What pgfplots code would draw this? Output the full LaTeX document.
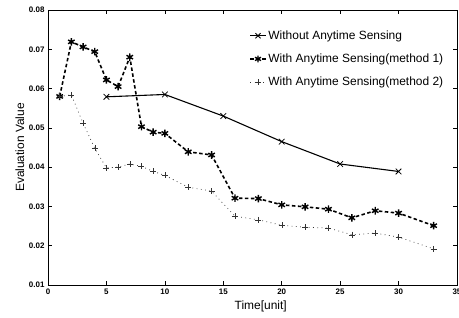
\documentclass[border=0pt]{standalone}
\usepackage{pgfplots}
\pgfplotsset{compat=1.18}
\usepackage{fontspec}
\setmainfont{Liberation Sans}
\begin{document}
\begin{tikzpicture}
\begin{axis}[
  at={(0,0)}, anchor=south west,
  scale only axis,
  width=409bp, height=275bp,
  xmin=0, xmax=35, ymin=0.01, ymax=0.08,
  xtick={0,5,...,35},
  ytick={0.01,0.02,...,0.08},
  tick align=inside,
  major tick length=4bp,
  axis line style={line width=1pt},
  every tick/.style={black, line width=0.6pt},
  /pgf/number format/assume math mode=true,
  yticklabel style={/pgf/number format/.cd, fixed, fixed zerofill, precision=2},
  scaled y ticks=false,
  ticklabel style={font=\fontsize{8}{10}\selectfont\bfseries},
  xlabel={Time[unit]},
  ylabel={Evaluation Value},
  label style={font=\fontsize{12}{14}\selectfont},
  xlabel style={at={(ticklabel cs:0.52)}, anchor=north, yshift=0bp},
  ylabel style={yshift=-2bp},
  legend style={draw=none, fill=none, at={(rel axis cs:0.485,0.94)}, anchor=north west,
    font=\fontsize{12}{14}\selectfont, row sep=9bp, /tikz/every even column/.append style={column sep=3bp}},
  legend cell align=left,
  legend image post style={scale=0.9},
]
\addplot[black, line width=1.1pt, mark=x, mark size=4pt, mark options={solid, line width=0.8pt}]
  coordinates {(5,0.0579) (10,0.0585) (15,0.0530) (20,0.0465) (25,0.0408) (30,0.0389)};
\addlegendentry{Without Anytime Sensing}
\addplot[black, line width=1.6pt, dash pattern=on 3.5pt off 2.5pt, mark=asterisk, mark size=3.8pt, mark options={solid, line width=1.4pt}]
  coordinates {(1,0.0580) (2,0.0719) (3,0.0706) (4,0.0694) (5,0.0622) (6,0.0605) (7,0.0680) (8,0.0503) (9,0.0489) (10,0.0486) (12,0.0439) (14,0.0431) (16,0.0321) (18,0.0320) (20,0.0304) (22,0.0299) (24,0.0293) (26,0.0271) (28,0.0289) (30,0.0283) (33,0.0251)};
\addlegendentry{With Anytime Sensing(method 1)}
\addplot[black!80, line width=0.7pt, dash pattern=on 0.8pt off 3.5pt, mark=+, mark size=3pt, mark options={solid, line width=0.4pt}]
  coordinates {(1,0.0580) (2,0.0584) (3,0.0512) (4,0.0448) (5,0.0398) (6,0.0400) (7,0.0408) (8,0.0402) (9,0.0389) (10,0.0379) (12,0.0349) (14,0.0339) (16,0.0275) (18,0.0266) (20,0.0252) (22,0.0247) (24,0.0245) (26,0.0228) (28,0.0232) (30,0.0222) (33,0.0192)};
\addlegendentry{With Anytime Sensing(method 2)}
\end{axis}
\pgfresetboundingbox
\path (-48bp,-33bp) rectangle (411bp,285bp);
\end{tikzpicture}
\end{document}
